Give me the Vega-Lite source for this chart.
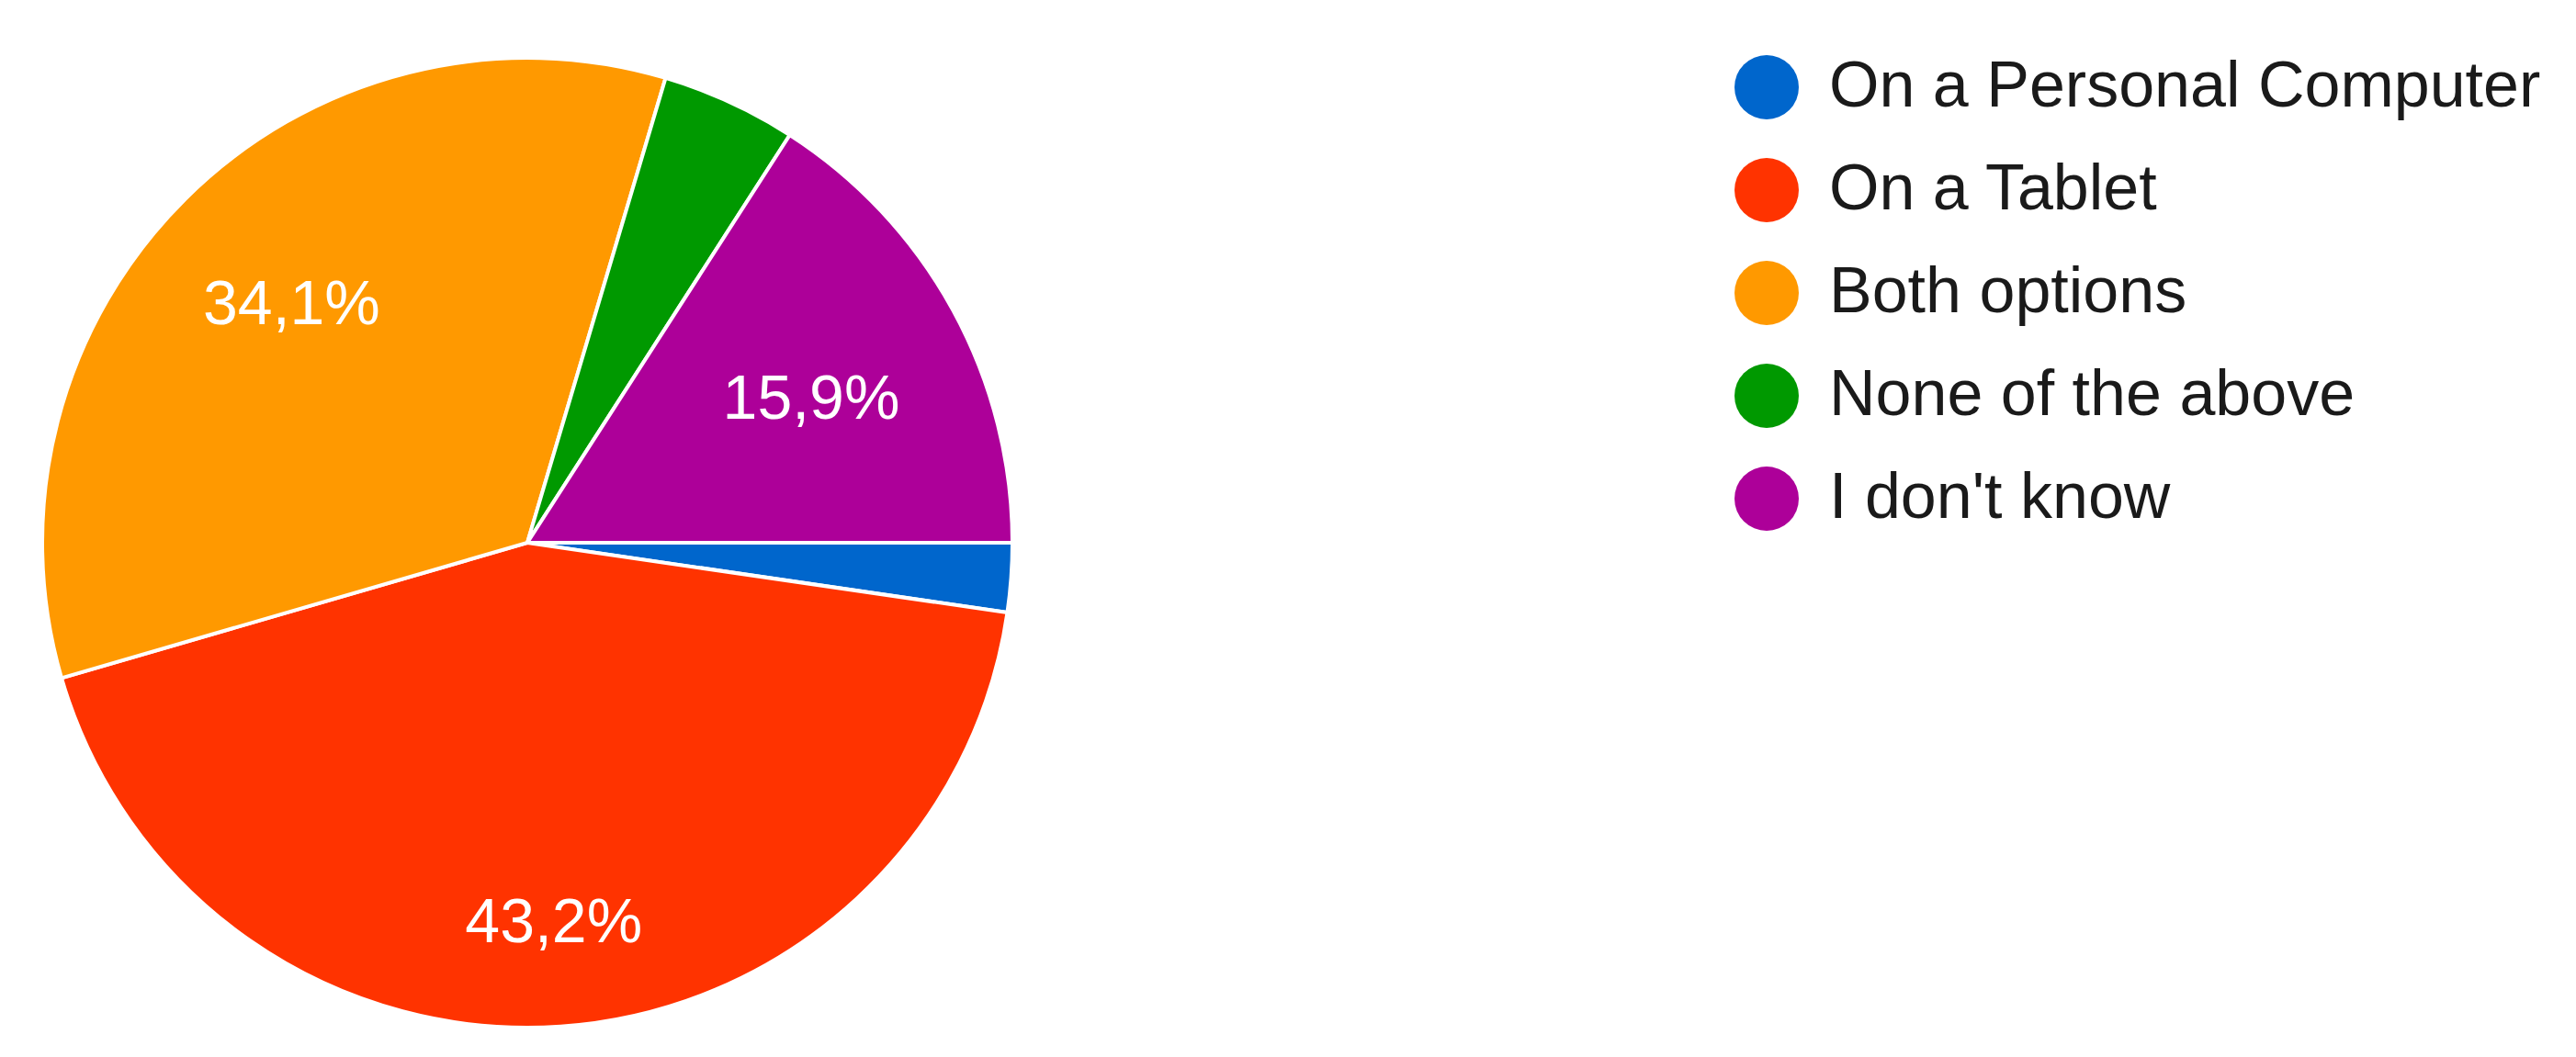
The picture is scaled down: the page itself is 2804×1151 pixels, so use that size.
{
  "$schema": "https://vega.github.io/schema/vega-lite/v6.json",
  "width": 1148,
  "height": 1100,
  "autosize": {"type": "none"},
  "padding": {"left": 0, "top": 41, "right": 1656, "bottom": 10},
  "background": "white",
  "view": {"stroke": null},
  "data": {
    "values": [
      {"answer": "On a Personal Computer", "pct": 2.3, "label": "2,3%", "order": 1},
      {"answer": "On a Tablet", "pct": 43.2, "label": "43,2%", "order": 2},
      {"answer": "Both options", "pct": 34.1, "label": "34,1%", "order": 3},
      {"answer": "None of the above", "pct": 4.5, "label": "4,5%", "order": 4},
      {"answer": "I don't know", "pct": 15.9, "label": "15,9%", "order": 5}
    ]
  },
  "encoding": {
    "theta": {"field": "pct", "type": "quantitative", "stack": true, "scale": {"range": [1.5708, 7.854]}},
    "order": {"field": "order", "type": "quantitative"},
    "color": {
      "field": "answer",
      "type": "nominal",
      "sort": ["On a Personal Computer", "On a Tablet", "Both options", "None of the above", "I don't know"],
      "scale": {
        "domain": ["On a Personal Computer", "On a Tablet", "Both options", "None of the above", "I don't know"],
        "range": ["#0066cc", "#ff3300", "#ff9900", "#009900", "#ad0099"]
      },
      "legend": {
        "title": null,
        "orient": "none",
        "legendX": 1888,
        "legendY": 19,
        "padding": 0,
        "symbolType": "circle",
        "symbolSize": 4900,
        "symbolStrokeWidth": 0,
        "labelFontSize": 70,
        "labelFont": "Liberation Sans",
        "labelColor": "#1a1a1a",
        "labelOffset": 33,
        "labelLimit": 1000,
        "rowPadding": 42
      }
    }
  },
  "layer": [
    {
      "mark": {"type": "arc", "outerRadius": 528, "stroke": "white", "strokeWidth": 4}
    },
    {
      "mark": {"type": "text", "radius": 364, "font": "Liberation Sans", "fontSize": 68, "fill": "white", "align": "center", "baseline": "middle"},
      "encoding": {
        "text": {"field": "label", "type": "nominal", "condition": {"test": "datum.answer !== 'Both options'", "value": ""}},
        "color": {"value": "white"}
      }
    },
    {
      "mark": {"type": "text", "radius": 352, "dy": 14, "font": "Liberation Sans", "fontSize": 68, "fill": "white", "align": "center", "baseline": "middle"},
      "encoding": {
        "text": {"field": "label", "type": "nominal", "condition": {"test": "datum.answer !== 'I don\\'t know'", "value": ""}},
        "color": {"value": "white"}
      }
    },
    {
      "mark": {"type": "text", "radius": 416, "font": "Liberation Sans", "fontSize": 68, "fill": "white", "align": "center", "baseline": "middle"},
      "encoding": {
        "text": {"field": "label", "type": "nominal", "condition": {"test": "datum.answer !== 'On a Tablet'", "value": ""}},
        "color": {"value": "white"}
      }
    }
  ]
}
